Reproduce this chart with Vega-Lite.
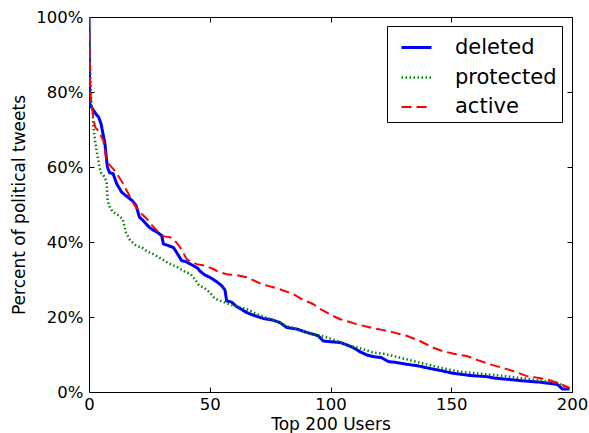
{
  "$schema": "https://vega.github.io/schema/vega-lite/v6.json",
  "width": 483,
  "height": 375,
  "autosize": {"type": "none"},
  "padding": {"left": 89, "top": 17, "right": 17, "bottom": 41},
  "background": "white",
  "config": {
    "font": "DejaVu Sans",
    "view": {"stroke": "black", "strokeWidth": 1},
    "axis": {"grid": false, "labelColor": "black", "titleColor": "black", "tickColor": "black", "domainColor": "black", "labelFontSize": 16.5, "titleFontSize": 17, "titleFontWeight": "normal", "tickSize": -5, "domain": false}
  },
  "data": {"values": [
    {"series":"deleted","user":0,"pct":100},{"series":"deleted","user":0.3,"pct":77},{"series":"deleted","user":1,"pct":76},{"series":"deleted","user":3,"pct":74},{"series":"deleted","user":4,"pct":73.3},{"series":"deleted","user":5,"pct":71.5},{"series":"deleted","user":6.6,"pct":66.2},{"series":"deleted","user":7.6,"pct":60},{"series":"deleted","user":8.5,"pct":58.5},{"series":"deleted","user":10,"pct":58.2},{"series":"deleted","user":11.5,"pct":55.5},{"series":"deleted","user":13.5,"pct":53.3},{"series":"deleted","user":15,"pct":52.5},{"series":"deleted","user":17,"pct":51.5},{"series":"deleted","user":18,"pct":51},{"series":"deleted","user":19.5,"pct":49.7},{"series":"deleted","user":20.9,"pct":46.6},{"series":"deleted","user":22,"pct":46},{"series":"deleted","user":25,"pct":43.9},{"series":"deleted","user":27,"pct":43},{"series":"deleted","user":28.5,"pct":42.5},{"series":"deleted","user":30.1,"pct":41.7},{"series":"deleted","user":30.8,"pct":39.5},{"series":"deleted","user":33,"pct":39},{"series":"deleted","user":35,"pct":38.5},{"series":"deleted","user":36.3,"pct":37.2},{"series":"deleted","user":38.4,"pct":35},{"series":"deleted","user":40,"pct":34.8},{"series":"deleted","user":43.2,"pct":33.7},{"series":"deleted","user":45,"pct":33},{"series":"deleted","user":46,"pct":32.2},{"series":"deleted","user":48,"pct":31.2},{"series":"deleted","user":50,"pct":30.6},{"series":"deleted","user":52.9,"pct":29.4},{"series":"deleted","user":55,"pct":28.3},{"series":"deleted","user":56.3,"pct":27.2},{"series":"deleted","user":57,"pct":24.3},{"series":"deleted","user":59,"pct":24},{"series":"deleted","user":61.1,"pct":22.8},{"series":"deleted","user":65.3,"pct":21.2},{"series":"deleted","user":68,"pct":20.5},{"series":"deleted","user":72.2,"pct":19.6},{"series":"deleted","user":76,"pct":19.2},{"series":"deleted","user":79.1,"pct":18.5},{"series":"deleted","user":81.9,"pct":17.2},{"series":"deleted","user":86,"pct":16.8},{"series":"deleted","user":90.1,"pct":15.9},{"series":"deleted","user":94.9,"pct":15},{"series":"deleted","user":97,"pct":13.6},{"series":"deleted","user":100,"pct":13.4},{"series":"deleted","user":104,"pct":13.2},{"series":"deleted","user":107,"pct":12.5},{"series":"deleted","user":109.5,"pct":11.8},{"series":"deleted","user":112,"pct":10.8},{"series":"deleted","user":115,"pct":9.9},{"series":"deleted","user":118,"pct":9.4},{"series":"deleted","user":121,"pct":9.2},{"series":"deleted","user":124,"pct":8.1},{"series":"deleted","user":127,"pct":7.9},{"series":"deleted","user":131.5,"pct":7.4},{"series":"deleted","user":136,"pct":7},{"series":"deleted","user":141,"pct":6.3},{"series":"deleted","user":145,"pct":5.8},{"series":"deleted","user":150.7,"pct":5},{"series":"deleted","user":157.8,"pct":4.4},{"series":"deleted","user":164.7,"pct":4.1},{"series":"deleted","user":168,"pct":3.7},{"series":"deleted","user":173,"pct":3.4},{"series":"deleted","user":181,"pct":2.9},{"series":"deleted","user":187,"pct":2.6},{"series":"deleted","user":192,"pct":2.2},{"series":"deleted","user":194,"pct":2},{"series":"deleted","user":196,"pct":0.8},{"series":"deleted","user":199,"pct":0.8},
    {"series":"protected","user":0,"pct":100},{"series":"protected","user":0.5,"pct":85},{"series":"protected","user":1,"pct":77},{"series":"protected","user":1.5,"pct":75},{"series":"protected","user":1.8,"pct":70.7},{"series":"protected","user":2.9,"pct":65.3},{"series":"protected","user":4.3,"pct":60},{"series":"protected","user":5,"pct":58.5},{"series":"protected","user":6.3,"pct":57.5},{"series":"protected","user":7.3,"pct":56},{"series":"protected","user":7.7,"pct":51},{"series":"protected","user":8.5,"pct":49.5},{"series":"protected","user":9.8,"pct":48},{"series":"protected","user":12.5,"pct":47},{"series":"protected","user":14,"pct":46},{"series":"protected","user":15.3,"pct":42.5},{"series":"protected","user":17,"pct":40.5},{"series":"protected","user":19.5,"pct":39},{"series":"protected","user":22,"pct":38.5},{"series":"protected","user":24,"pct":37.5},{"series":"protected","user":26.6,"pct":36.8},{"series":"protected","user":30,"pct":35.5},{"series":"protected","user":33,"pct":34.3},{"series":"protected","user":36,"pct":33.5},{"series":"protected","user":40,"pct":32},{"series":"protected","user":42,"pct":31.5},{"series":"protected","user":44,"pct":30},{"series":"protected","user":45.5,"pct":28.5},{"series":"protected","user":48,"pct":27.6},{"series":"protected","user":50.1,"pct":26.5},{"series":"protected","user":52,"pct":25},{"series":"protected","user":55.6,"pct":24},{"series":"protected","user":60,"pct":23},{"series":"protected","user":65.3,"pct":22.1},{"series":"protected","user":68,"pct":21.2},{"series":"protected","user":72.2,"pct":20.1},{"series":"protected","user":77,"pct":19},{"series":"protected","user":81.9,"pct":17.6},{"series":"protected","user":87,"pct":16.5},{"series":"protected","user":92.9,"pct":15.4},{"series":"protected","user":96,"pct":15},{"series":"protected","user":99.8,"pct":14.3},{"series":"protected","user":104,"pct":13.3},{"series":"protected","user":109.5,"pct":12.1},{"series":"protected","user":113,"pct":11.5},{"series":"protected","user":117.7,"pct":10.5},{"series":"protected","user":122,"pct":10.2},{"series":"protected","user":126,"pct":9.6},{"series":"protected","user":131,"pct":8.8},{"series":"protected","user":137,"pct":7.8},{"series":"protected","user":141,"pct":7.2},{"series":"protected","user":145.3,"pct":6.5},{"series":"protected","user":149,"pct":6},{"series":"protected","user":153.6,"pct":5.4},{"series":"protected","user":158,"pct":5.1},{"series":"protected","user":164.7,"pct":4.7},{"series":"protected","user":170,"pct":4.4},{"series":"protected","user":175.7,"pct":4},{"series":"protected","user":180,"pct":3.6},{"series":"protected","user":185.3,"pct":3.2},{"series":"protected","user":190,"pct":2.8},{"series":"protected","user":193.6,"pct":2.5},{"series":"protected","user":196,"pct":1.8},{"series":"protected","user":197.8,"pct":1.2},{"series":"protected","user":199,"pct":1},
    {"series":"active","user":0,"pct":100},{"series":"active","user":0.5,"pct":80},{"series":"active","user":1,"pct":77},{"series":"active","user":1.8,"pct":73.3},{"series":"active","user":2.5,"pct":70.7},{"series":"active","user":4,"pct":69.5},{"series":"active","user":5.9,"pct":67.1},{"series":"active","user":7,"pct":63},{"series":"active","user":8,"pct":60.9},{"series":"active","user":10,"pct":59.5},{"series":"active","user":11.5,"pct":58.2},{"series":"active","user":14.2,"pct":55.5},{"series":"active","user":17,"pct":52},{"series":"active","user":19,"pct":49.7},{"series":"active","user":21,"pct":48},{"series":"active","user":23.9,"pct":46.2},{"series":"active","user":26,"pct":44.5},{"series":"active","user":29.4,"pct":42.2},{"series":"active","user":31,"pct":41.5},{"series":"active","user":33.5,"pct":41.3},{"series":"active","user":36,"pct":40},{"series":"active","user":37.7,"pct":38.6},{"series":"active","user":40.4,"pct":35.5},{"series":"active","user":42,"pct":34.8},{"series":"active","user":44.6,"pct":34.1},{"series":"active","user":48,"pct":33.7},{"series":"active","user":51.5,"pct":32.8},{"series":"active","user":54.2,"pct":31.9},{"series":"active","user":57,"pct":31.4},{"series":"active","user":61,"pct":31.2},{"series":"active","user":65.3,"pct":30.6},{"series":"active","user":68.7,"pct":29.6},{"series":"active","user":72,"pct":28.6},{"series":"active","user":74.2,"pct":28.3},{"series":"active","user":79,"pct":27.4},{"series":"active","user":84.6,"pct":26.1},{"series":"active","user":88,"pct":24.8},{"series":"active","user":92.9,"pct":23.4},{"series":"active","user":95.6,"pct":22.2},{"series":"active","user":97,"pct":21.7},{"series":"active","user":101,"pct":20.3},{"series":"active","user":104,"pct":19.4},{"series":"active","user":110.8,"pct":18.1},{"series":"active","user":117.7,"pct":17},{"series":"active","user":122,"pct":16.5},{"series":"active","user":126,"pct":15.9},{"series":"active","user":131.5,"pct":15},{"series":"active","user":137,"pct":13.6},{"series":"active","user":142.6,"pct":11.8},{"series":"active","user":146,"pct":11},{"series":"active","user":150.9,"pct":10.2},{"series":"active","user":156.4,"pct":9.6},{"series":"active","user":161,"pct":8.5},{"series":"active","user":166,"pct":7.4},{"series":"active","user":173,"pct":6.1},{"series":"active","user":177,"pct":5.3},{"series":"active","user":181,"pct":4.3},{"series":"active","user":185,"pct":3.9},{"series":"active","user":189.5,"pct":3.4},{"series":"active","user":195,"pct":2.2},{"series":"active","user":198.5,"pct":1.2},{"series":"active","user":199,"pct":1}
  ]},
  "layer": [
    {
      "mark": {"type": "line", "clip": true},
      "encoding": {
        "x": {"field": "user", "type": "quantitative", "scale": {"domain": [0, 200], "nice": false, "zero": false},
              "axis": {"orient": "bottom", "values": [0, 50, 100, 150, 200], "title": "Top 200 Users", "labelPadding": 9, "titlePadding": 4, "labelFlush": false}},
        "y": {"field": "pct", "type": "quantitative", "scale": {"domain": [0, 100], "nice": false},
              "axis": {"orient": "left", "values": [0, 20, 40, 60, 80, 100], "labelExpr": "datum.value + '%'", "title": "Percent of political tweets", "labelPadding": 11, "titlePadding": 7, "labelFlush": false}},
        "color": {"field": "series", "type": "nominal",
                  "scale": {"domain": ["deleted", "protected", "active"], "range": ["#0000ff", "#008000", "#ff0000"]},
                  "legend": {"title": null, "orient": "none", "legendX": 298, "legendY": 9, "strokeColor": "black", "fillColor": "white", "padding": 5, "symbolOffset": 8, "symbolType": "stroke", "symbolSize": 900, "labelFontSize": 21, "labelColor": "black", "labelOffset": 22, "rowPadding": 3, "cornerRadius": 0}},
        "strokeDash": {"field": "series", "type": "nominal",
                       "scale": {"domain": ["deleted", "protected", "active"], "range": [[1, 0], [1.5, 2.5], [10, 5]]},
                       "legend": {"title": null}},
        "strokeWidth": {"field": "series", "type": "nominal",
                        "scale": {"domain": ["deleted", "protected", "active"], "range": [3, 2, 3]},
                        "legend": {"title": null}}
      }
    },
    {
      "mark": {"type": "line", "opacity": 0},
      "encoding": {
        "x": {"field": "user", "type": "quantitative", "axis": {"orient": "top", "values": [0, 50, 100, 150, 200], "labels": false, "title": null}},
        "y": {"field": "pct", "type": "quantitative", "axis": {"orient": "right", "values": [0, 20, 40, 60, 80, 100], "labels": false, "title": null}},
        "detail": {"field": "series"}
      }
    }
  ],
  "resolve": {"axis": {"x": "independent", "y": "independent"}}
}
